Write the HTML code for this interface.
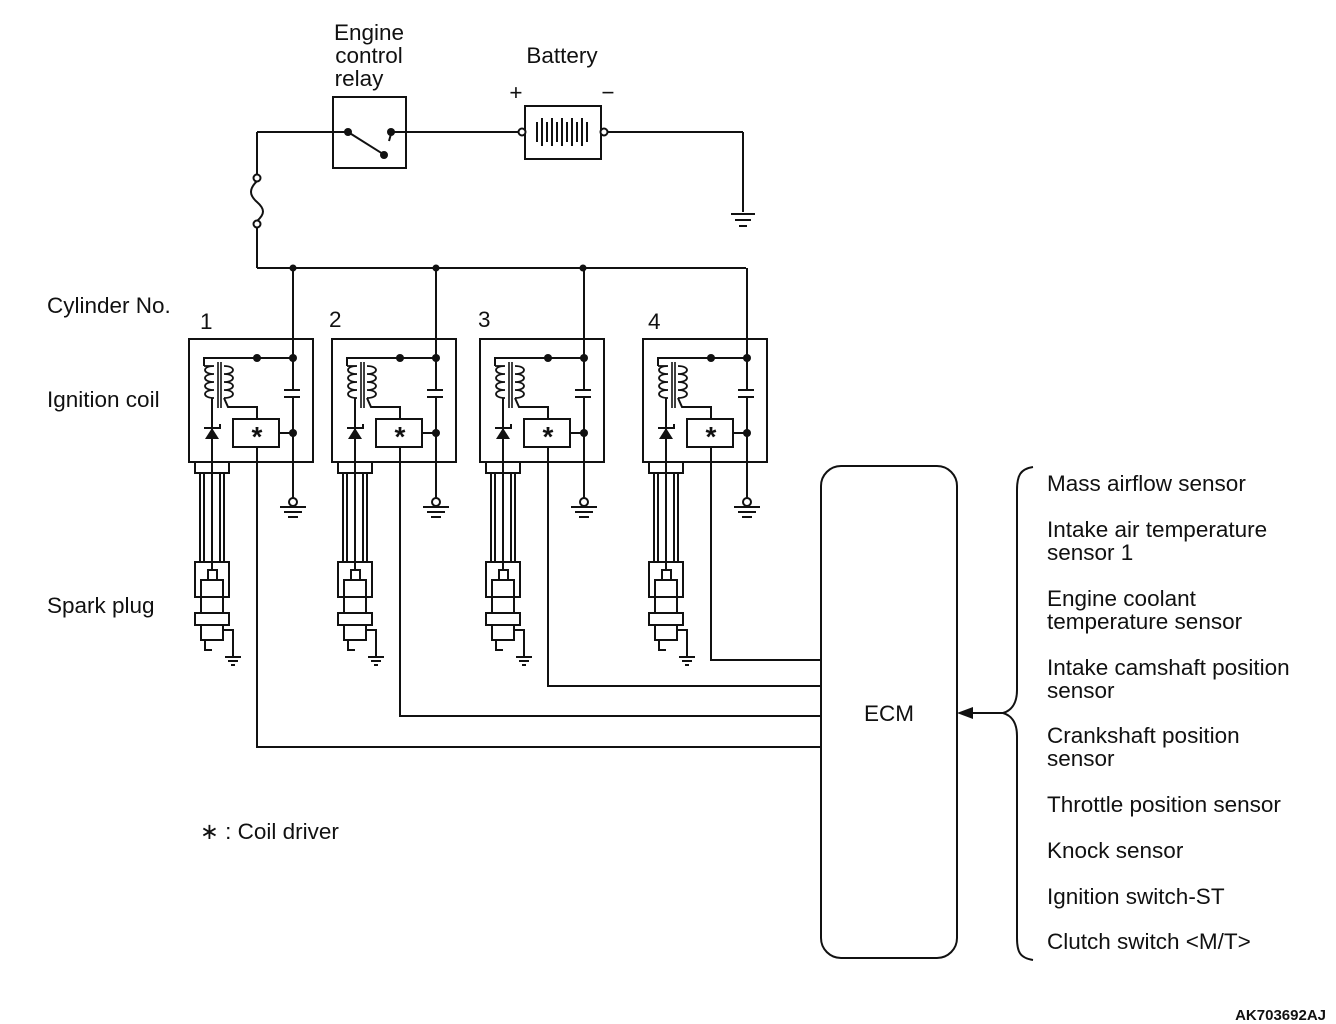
<!DOCTYPE html>
<html><head><meta charset="utf-8"><style>
html,body{margin:0;padding:0;background:#fff;}
svg{display:block;}
text{font-family:"Liberation Sans",Arial,sans-serif;fill:#111;}
</style></head><body>
<svg width="1336" height="1024" viewBox="0 0 1336 1024" xmlns="http://www.w3.org/2000/svg">
<defs>
<g id="coil" stroke="#111" stroke-width="2" fill="none">
  <rect x="189" y="339" width="124" height="123"/>
  <polyline points="204,366 204,358 293,358"/>
  <circle cx="257" cy="358" r="4" fill="#111" stroke="none"/>
  <circle cx="293" cy="358" r="4" fill="#111" stroke="none"/>
  <!-- transformer -->
  <path d="M204,366 h10 c-12,0 -12,8 0,8 c-12,0 -12,8 0,8 c-12,0 -12,8 0,8 c-12,0 -12,8 0,8 h-2" stroke-width="1.8"/>
  <path d="M224,366 c12,0 12,8 0,8 c12,0 12,8 0,8 c12,0 12,8 0,8 c12,0 12,8 0,8" stroke-width="1.8"/>
  <line x1="218" y1="362" x2="218" y2="408" stroke-width="1.6"/>
  <line x1="221" y1="362" x2="221" y2="408" stroke-width="1.6"/>
  <polyline points="224,398 228,407 257,407 257,419"/>
  <line x1="212" y1="398" x2="212" y2="570"/>
  <polygon points="205,439 219,439 212,428" fill="#111" stroke="none"/>
  <polyline points="204,428 220,428 220,424" stroke-width="2"/>
  <rect x="233" y="419" width="46" height="28" fill="#fff"/>
  <line x1="279" y1="433" x2="293" y2="433"/>
  <circle cx="293" cy="433" r="4" fill="#111" stroke="none"/>
  <line x1="293" y1="268" x2="293" y2="390"/>
  <line x1="284" y1="390" x2="300" y2="390"/>
  <line x1="284" y1="397" x2="300" y2="397"/>
  <line x1="293" y1="397" x2="293" y2="498"/>
  <circle cx="293" cy="502" r="4" fill="#fff"/>
  <line x1="280" y1="507" x2="306" y2="507"/>
  <line x1="284" y1="512" x2="302" y2="512"/>
  <line x1="288" y1="517" x2="298" y2="517"/>
  <rect x="195" y="462" width="34" height="11"/>
  <line x1="200" y1="473" x2="200" y2="562"/>
  <line x1="204" y1="473" x2="204" y2="562"/>
  <line x1="220" y1="473" x2="220" y2="562"/>
  <line x1="224" y1="473" x2="224" y2="562"/>
  <rect x="195" y="562" width="34" height="35"/>
  <rect x="208" y="570" width="9" height="10"/>
  <rect x="201" y="580" width="22" height="33"/>
  <rect x="195" y="613" width="34" height="12"/>
  <rect x="201" y="625" width="22" height="15"/>
  <polyline points="205,640 205,650 212,650"/>
  <polyline points="223,630 233,630 233,656"/>
  <line x1="225" y1="657" x2="241" y2="657"/>
  <line x1="228" y1="661" x2="238" y2="661"/>
  <line x1="231" y1="665" x2="235" y2="665"/>
</g>
</defs>

<g stroke="#111" stroke-width="2" fill="none">
  <rect x="333" y="97" width="73" height="71"/>
  <line x1="257" y1="132" x2="348" y2="132"/>
  <line x1="391" y1="132" x2="519" y2="132"/>
  <line x1="348" y1="132" x2="383" y2="154"/>
  <line x1="391" y1="134" x2="389" y2="141"/>
  <rect x="525" y="106" width="76" height="53"/>
  <line x1="607" y1="132" x2="743" y2="132"/>
  <line x1="743" y1="132" x2="743" y2="212"/>
  <line x1="731" y1="214" x2="755" y2="214"/>
  <line x1="735" y1="220" x2="751" y2="220"/>
  <line x1="739" y1="226" x2="747" y2="226"/>
  <line x1="257" y1="132" x2="257" y2="175"/>
  <path d="M257,181 c-8,8 -8,14 0,21 c8,7 8,12 0,19"/>
  <line x1="257" y1="227" x2="257" y2="268"/>
  <line x1="257" y1="268" x2="746" y2="268"/>
  <polyline points="257,447 257,747 821,747"/>
  <polyline points="400,447 400,716 821,716"/>
  <polyline points="548,447 548,686 821,686"/>
  <polyline points="711,447 711,660 821,660"/>
  <rect x="821" y="466" width="136" height="492" rx="20"/>
  <path d="M1033,467 C1020,469 1017,476 1017,490 L1017,690 C1017,705 1010,711 1003,713 C1010,715 1017,721 1017,736 L1017,938 C1017,952 1020,958 1033,960"/>
  <line x1="1003" y1="713" x2="970" y2="713"/>
</g>
<polygon points="957,713 973,707 973,719" fill="#111"/>
<g fill="#111">
  <circle cx="348" cy="132" r="4"/><circle cx="391" cy="132" r="4"/><circle cx="384" cy="155" r="4"/>
  <circle cx="293" cy="268" r="3.5"/><circle cx="436" cy="268" r="3.5"/><circle cx="583" cy="268" r="3.5"/>
</g>
<g fill="#fff" stroke="#111" stroke-width="2">
  <circle cx="522" cy="132" r="3.5"/><circle cx="604" cy="132" r="3.5"/>
  <circle cx="257" cy="178" r="3.5"/><circle cx="257" cy="224" r="3.5"/>
</g>
<g stroke="#111" stroke-width="2">
  <line x1="537" y1="122" x2="537" y2="142"/><line x1="542" y1="118" x2="542" y2="146"/>
  <line x1="547" y1="122" x2="547" y2="142"/><line x1="552" y1="118" x2="552" y2="146"/>
  <line x1="557" y1="122" x2="557" y2="142"/><line x1="562" y1="118" x2="562" y2="146"/>
  <line x1="567" y1="122" x2="567" y2="142"/><line x1="572" y1="118" x2="572" y2="146"/>
  <line x1="577" y1="122" x2="577" y2="142"/><line x1="582" y1="118" x2="582" y2="146"/>
  <line x1="587" y1="122" x2="587" y2="142"/>
</g>

<use href="#coil"/>
<use href="#coil" transform="translate(143,0)"/>
<use href="#coil" transform="translate(291,0)"/>
<use href="#coil" transform="translate(454,0)"/>

<g font-size="28" font-weight="bold" text-anchor="middle">
  <text x="257" y="446">*</text><text x="400" y="446">*</text><text x="548" y="446">*</text><text x="711" y="446">*</text>
</g>

<g font-size="22.5">
  <text x="369" y="40" text-anchor="middle">Engine</text>
  <text x="369" y="63" text-anchor="middle">control</text>
  <text x="359" y="86" text-anchor="middle">relay</text>
  <text x="562" y="63" text-anchor="middle">Battery</text>
  <text x="516" y="100" text-anchor="middle">+</text>
  <text x="608" y="100" text-anchor="middle">−</text>
  <text x="47" y="313">Cylinder No.</text>
  <text x="47" y="407">Ignition coil</text>
  <text x="47" y="613">Spark plug</text>
  <text x="200" y="329">1</text><text x="329" y="327">2</text><text x="478" y="327">3</text><text x="648" y="329">4</text>
  <text x="200" y="839">∗ : Coil driver</text>
  <text x="889" y="721" text-anchor="middle">ECM</text>
  <text x="1047" y="491">Mass airflow sensor</text>
  <text x="1047" y="537">Intake air temperature</text>
  <text x="1047" y="560">sensor 1</text>
  <text x="1047" y="606">Engine coolant</text>
  <text x="1047" y="629">temperature sensor</text>
  <text x="1047" y="675">Intake camshaft position</text>
  <text x="1047" y="698">sensor</text>
  <text x="1047" y="743">Crankshaft position</text>
  <text x="1047" y="766">sensor</text>
  <text x="1047" y="812">Throttle position sensor</text>
  <text x="1047" y="858">Knock sensor</text>
  <text x="1047" y="904">Ignition switch-ST</text>
  <text x="1047" y="949">Clutch switch &lt;M/T&gt;</text>
</g>
<text x="1326" y="1020" font-size="15" font-weight="bold" text-anchor="end">AK703692AJ</text>
</svg>
</body></html>
